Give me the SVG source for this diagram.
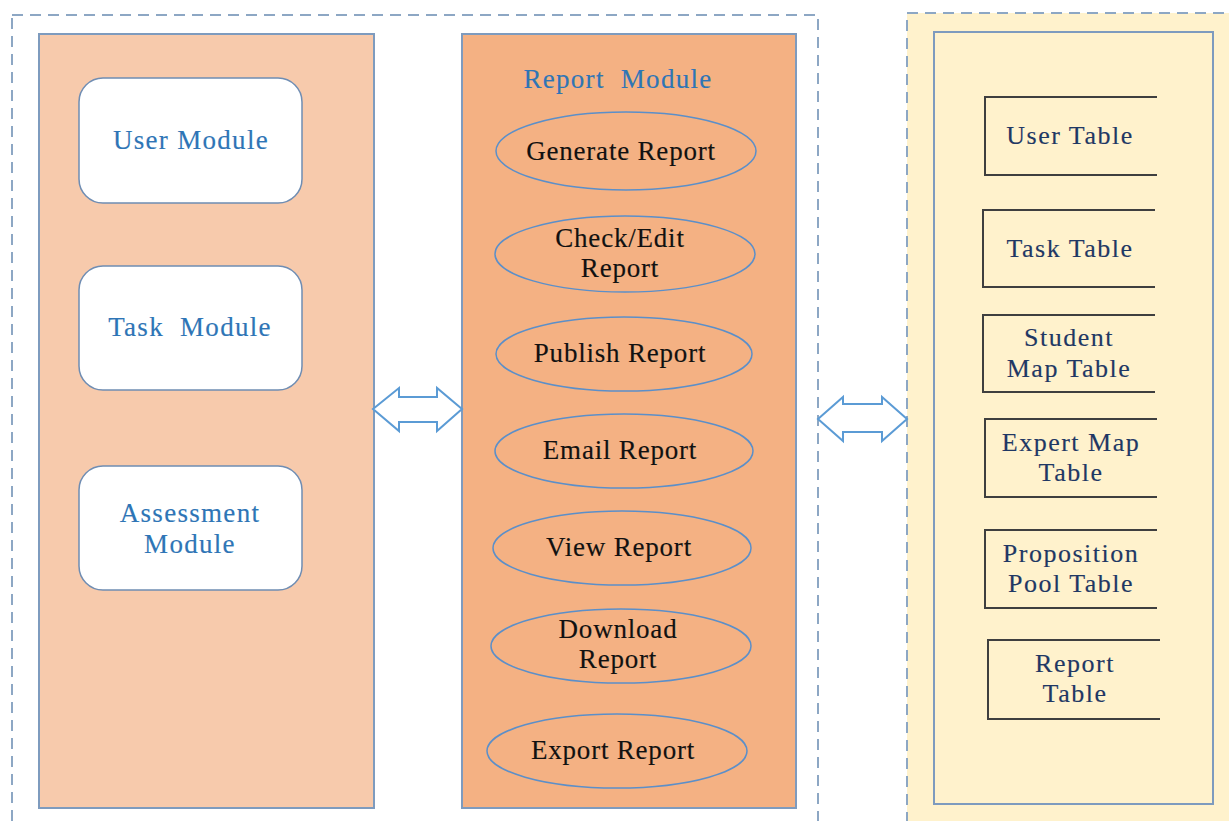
<svg xmlns="http://www.w3.org/2000/svg" width="1229" height="821" viewBox="0 0 1229 821">
<style>
.dash{fill:none;stroke:#8DA7C4;stroke-width:2;stroke-dasharray:11,7}
.panel{stroke:#7E9BBE;stroke-width:2}
.mod{fill:#fff;stroke:#6F8DB3;stroke-width:1.5}
.ell{fill:none;stroke:#5B8FC9;stroke-width:1.5}
.tbl{fill:none;stroke:#3F3F3F;stroke-width:2}
.arrow{fill:#fff;stroke:#5B9BD5;stroke-width:2;stroke-linejoin:miter}
text{font-family:"Liberation Serif","Times New Roman",serif;text-anchor:middle;stroke-width:0.15px}
.mt{fill:#2E75B6;stroke:#2E75B6;font-size:27px;letter-spacing:1.3px}
.et{fill:#111;stroke:#111;font-size:27px;letter-spacing:0.8px}
.tt{fill:#1F3864;stroke:#1F3864;font-size:26px;letter-spacing:1.5px}
</style>
<rect x="0" y="0" width="1229" height="821" fill="#fff"/>
<g id="left-container">
<rect class="dash" x="12" y="15" width="806" height="830"/>
</g>
<g id="right-container">
<rect x="907" y="13" width="340" height="830" fill="#FFF2CC"/>
<rect class="dash" x="907" y="13" width="340" height="830"/>
</g>
<g id="left-panel">
<rect class="panel" x="39" y="34" width="335" height="774" fill="#F7CAAC"/>
</g>
<g id="report-panel">
<rect class="panel" x="462" y="34" width="334" height="774" fill="#F4B183"/>
<text class="mt" x="618" y="88" xml:space="preserve">Report  Module</text>
</g>
<g id="db-panel">
<rect class="panel" x="934" y="32" width="279" height="772" fill="#FFF2CC"/>
</g>
<g id="user-module">
<rect class="mod" x="79" y="78" width="223" height="125" rx="24"/>
<text class="mt" x="191" y="149">User Module</text>
</g>
<g id="task-module">
<rect class="mod" x="79" y="266" width="223" height="124" rx="24"/>
<text class="mt" x="190" y="336" xml:space="preserve">Task  Module</text>
</g>
<g id="assessment-module">
<rect class="mod" x="79" y="466" width="223" height="124" rx="24"/>
<text class="mt" x="190" y="522">Assessment</text>
<text class="mt" x="190" y="553">Module</text>
</g>
<g id="generate-report">
<ellipse class="ell" cx="626" cy="151" rx="130" ry="39"/>
<text class="et" x="621" y="160">Generate Report</text>
</g>
<g id="check-edit-report">
<ellipse class="ell" cx="625" cy="254" rx="130" ry="38"/>
<text class="et" x="620" y="247">Check/Edit</text>
<text class="et" x="620" y="277">Report</text>
</g>
<g id="publish-report">
<ellipse class="ell" cx="624" cy="354" rx="128" ry="37"/>
<text class="et" x="620" y="362">Publish Report</text>
</g>
<g id="email-report">
<ellipse class="ell" cx="624" cy="451" rx="129" ry="37"/>
<text class="et" x="620" y="459">Email Report</text>
</g>
<g id="view-report">
<ellipse class="ell" cx="622" cy="548" rx="129" ry="37"/>
<text class="et" x="619" y="556">View Report</text>
</g>
<g id="download-report">
<ellipse class="ell" cx="621" cy="646" rx="130" ry="37"/>
<text class="et" x="618" y="638">Download</text>
<text class="et" x="618" y="668">Report</text>
</g>
<g id="export-report">
<ellipse class="ell" cx="617" cy="751" rx="130" ry="37"/>
<text class="et" x="613" y="759">Export Report</text>
</g>
<g id="user-table">
<path class="tbl" d="M1157,97 H985 V175 H1157"/>
<text class="tt" x="1070" y="144">User Table</text>
</g>
<g id="task-table">
<path class="tbl" d="M1155,210 H983 V287 H1155"/>
<text class="tt" x="1070" y="257">Task Table</text>
</g>
<g id="student-map-table">
<path class="tbl" d="M1155,315 H983 V392 H1155"/>
<text class="tt" x="1069" y="346">Student</text>
<text class="tt" x="1069" y="377">Map Table</text>
</g>
<g id="expert-map-table">
<path class="tbl" d="M1157,419 H985 V497 H1157"/>
<text class="tt" x="1071" y="451">Expert Map</text>
<text class="tt" x="1071" y="481">Table</text>
</g>
<g id="proposition-pool-table">
<path class="tbl" d="M1157,530 H985 V608 H1157"/>
<text class="tt" x="1071" y="562">Proposition</text>
<text class="tt" x="1071" y="592">Pool Table</text>
</g>
<g id="report-table">
<path class="tbl" d="M1160,640 H988 V719 H1160"/>
<text class="tt" x="1075" y="672">Report</text>
<text class="tt" x="1075" y="702">Table</text>
</g>
<g id="connectors">
<polygon class="arrow" points="373,409 399,388 399,397 437,397 437,388 462,409 437,431 437,422 399,422 399,431"/>
<polygon class="arrow" points="818,419 843,397 843,404 882,404 882,397 907,419 882,441 882,432 843,432 843,441"/>
</g>
</svg>
